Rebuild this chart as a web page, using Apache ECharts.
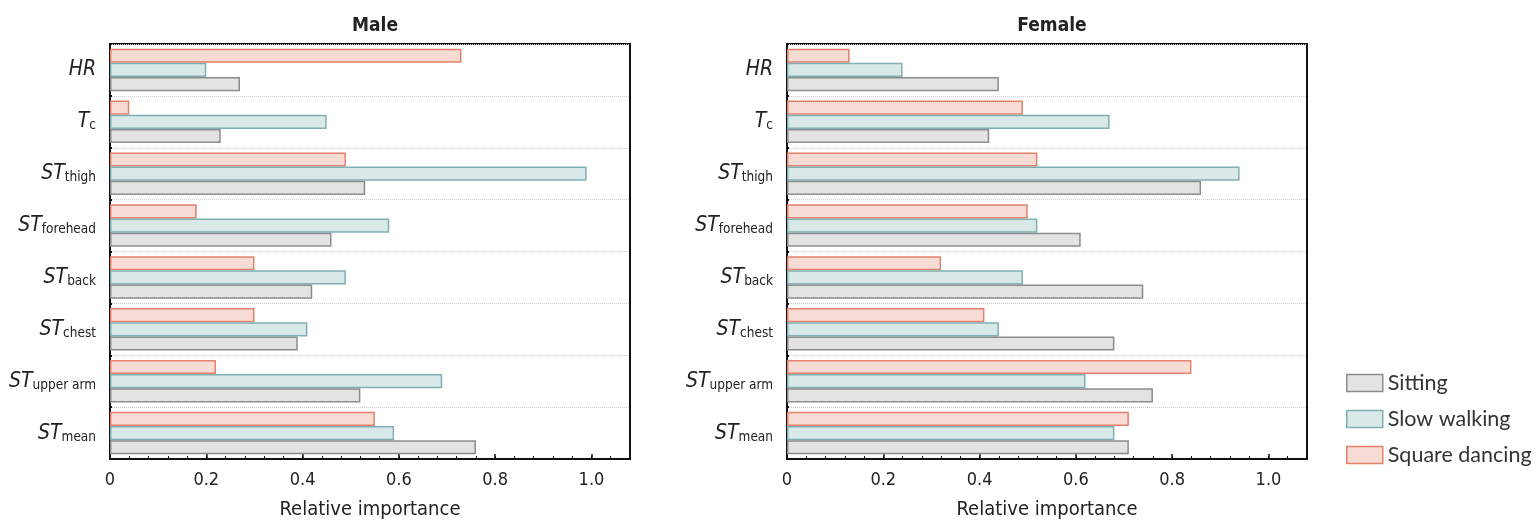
<!DOCTYPE html>
<html><head><meta charset="utf-8">
<script src="https://cdn.jsdelivr.net/npm/echarts@6/dist/echarts.min.js"></script>
<style>html,body{margin:0;padding:0;background:#fff}#c{width:1538px;height:525px}</style>
</head><body><div id="c"></div>
<script>
const categories = ['HR', 'T_c', 'ST_thigh', 'ST_forehead', 'ST_back', 'ST_chest', 'ST_upper arm', 'ST_mean'];
const seriesNames = ['Sitting', 'Slow walking', 'Square dancing'];
const panelTitles = ['Male', 'Female'];
const xTicks = [0, 0.2, 0.4, 0.6, 0.8, 1.0];
const maleSitting = [0.27, 0.23, 0.53, 0.46, 0.42, 0.39, 0.52, 0.76];
const maleSlowWalking = [0.20, 0.45, 0.99, 0.58, 0.49, 0.41, 0.69, 0.59];
const maleSquareDancing = [0.73, 0.04, 0.49, 0.18, 0.30, 0.30, 0.22, 0.55];
const femaleSitting = [0.44, 0.42, 0.86, 0.61, 0.74, 0.68, 0.76, 0.71];
const femaleSlowWalking = [0.24, 0.67, 0.94, 0.52, 0.49, 0.44, 0.62, 0.68];
const femaleSquareDancing = [0.13, 0.49, 0.52, 0.50, 0.32, 0.41, 0.84, 0.71];

const fills = ['#e3e3e3', '#d9e8e8', '#f7dcd6'];
const borders = ['#8c8c8c', '#7fb0b4', '#e5806b'];
const condensed = "'Liberation Sans Narrow','DejaVu Sans Condensed','Roboto',sans-serif";

const chart = echarts.init(document.getElementById('c'));
const grids = [
  {left: 110, width: 520, top: 44, height: 418},
  {left: 787, width: 520, top: 44, height: 418}
];
const xAxes = [], yAxes = [], series = [];
const panelData = [[maleSitting, maleSlowWalking, maleSquareDancing], [femaleSitting, femaleSlowWalking, femaleSquareDancing]];
grids.forEach((g, i) => {
  g.show = true; g.borderColor = '#111'; g.borderWidth = 2; g.backgroundColor = 'transparent';
  xAxes.push({
    type: 'value', gridIndex: i, min: 0, max: 1.08, interval: 0.2,
    name: 'Relative importance', nameLocation: 'middle', nameGap: 41,
    nameTextStyle: {fontFamily: condensed, fontSize: 20, color: '#222'},
    axisLine: {show: true, lineStyle: {color: '#111', width: 2}},
    axisTick: {show: true, inside: true, length: 5, lineStyle: {color: '#111', width: 1.5}},
    axisLabel: {fontFamily: condensed, fontSize: 18, color: '#222', margin: 12,
      formatter: v => xTicks.some(t => Math.abs(t - v) < 1e-9) ? (v === 0 ? '0' : v.toFixed(1)) : ''},
    splitLine: {show: false}
  });
  xAxes.push({
    type: 'value', gridIndex: i, min: 0, max: 1.08, interval: 0.04, position: 'bottom',
    axisLine: {show: false}, axisLabel: {show: false}, splitLine: {show: false},
    axisTick: {show: true, inside: true, length: 3, lineStyle: {color: '#111', width: 1}}
  });
  yAxes.push({
    type: 'category', gridIndex: i, data: categories, inverse: true,
    axisLine: {show: true, lineStyle: {color: '#111', width: 2}},
    axisTick: {show: true, inside: true, alignWithLabel: true, length: 4, lineStyle: {color: '#111', width: 2}},
    splitLine: {show: true, lineStyle: {color: '#cfcfcf', type: 'dotted', width: 1}},
    axisLabel: {
      margin: 14,
      formatter: c => {
        const p = c.split('_');
        return p.length > 1 ? '{m|' + p[0] + '}{s|' + p[1] + '}' : '{m|' + p[0] + '}';
      },
      rich: {
        m: {fontFamily: condensed, fontStyle: 'italic', fontSize: 21, color: '#222', lineHeight: 22},
        s: {fontFamily: condensed, fontSize: 13.5, color: '#222', lineHeight: 2, verticalAlign: 'bottom'}
      }
    }
  });
  yAxes.push({
    type: 'category', gridIndex: i, data: categories, inverse: true, position: 'left',
    axisLine: {show: false}, axisLabel: {show: false}, splitLine: {show: false},
    axisTick: {show: true, inside: true, length: 2, lineStyle: {color: '#111', width: 2}}
  });
  // draw order: top bar first (Square dancing), then Slow walking, then Sitting
  [2, 1, 0].forEach(k => {
    series.push({
      type: 'bar', name: seriesNames[k], xAxisIndex: i * 2, yAxisIndex: i * 2, data: panelData[i][k],
      barCategoryGap: '18%', barGap: '0%',
      itemStyle: {color: fills[k], borderColor: borders[k], borderWidth: 1.5},
      emphasis: {disabled: true}
    });
  });
});

chart.setOption({
  animation: false,
  title: [
    {text: panelTitles[0], left: 370, top: 12, textAlign: 'center', textStyle: {fontFamily: condensed, fontSize: 19, fontWeight: 'bold', color: '#222'}},
    {text: panelTitles[1], left: 1047, top: 12, textAlign: 'center', textStyle: {fontFamily: condensed, fontSize: 19, fontWeight: 'bold', color: '#222'}}
  ],
  legend: {
    orient: 'vertical', left: 1341, top: 367, itemWidth: 36, itemHeight: 17, itemGap: 14,
    icon: 'rect',
    data: seriesNames,
    textStyle: {fontFamily: 'Lato, sans-serif', fontSize: 21.5, color: '#333'},
    itemStyle: {borderWidth: 1.5}
  },
  grid: grids, xAxis: xAxes, yAxis: yAxes, series: series
});
</script></body></html>
